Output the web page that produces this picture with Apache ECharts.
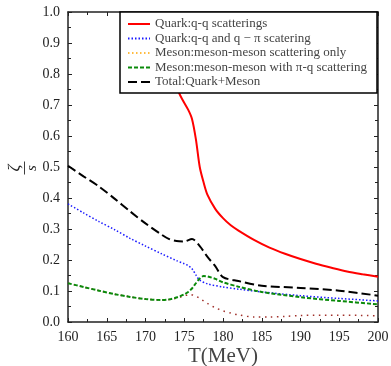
<!DOCTYPE html>
<html>
<head>
<meta charset="utf-8">
<script src="https://cdn.jsdelivr.net/npm/echarts@6/dist/echarts.min.js"></script>
<style>
  html, body { margin: 0; padding: 0; background: #fff; }
  #chart { width: 391px; height: 366px; }
</style>
</head>
<body>
<div id="chart"></div>
<script>
// T in MeV, value is zeta/s
var quarkT = [172.5, 173.5, 174.5, 175.5, 176, 176.5, 177, 177.5, 178, 179, 180, 181, 182, 184, 186, 188, 190, 192, 194, 196, 198, 200];
var quarkZeta = [0.86, 0.79, 0.73, 0.685, 0.655, 0.59, 0.5, 0.45, 0.41, 0.365, 0.335, 0.312, 0.295, 0.265, 0.24, 0.22, 0.203, 0.188, 0.175, 0.163, 0.154, 0.146];

var quarkPiT = [160, 162, 164, 166, 168, 170, 172, 174, 175, 175.5, 176, 176.5, 177, 178, 180, 182, 185, 190, 195, 200];
var quarkPiZeta = [0.381, 0.352, 0.324, 0.298, 0.270, 0.245, 0.221, 0.198, 0.188, 0.182, 0.172, 0.152, 0.135, 0.123, 0.113, 0.106, 0.097, 0.085, 0.076, 0.068];

var mesonT = [160, 162, 164, 166, 168, 170, 172, 173, 174, 175, 175.7, 176.5, 177, 178, 179, 180, 181, 182, 184, 186, 188, 190, 195, 200];
var mesonZeta = [0.125, 0.113, 0.101, 0.090, 0.081, 0.074, 0.071, 0.072, 0.077, 0.084, 0.089, 0.083, 0.076, 0.060, 0.046, 0.036, 0.029, 0.023, 0.016, 0.016, 0.018, 0.021, 0.022, 0.020];

var mesonPiT = [160, 162, 164, 166, 168, 170, 172, 173, 174, 175, 175.5, 176, 176.5, 177, 177.5, 178, 179, 180, 182, 185, 190, 195, 200];
var mesonPiZeta = [0.125, 0.113, 0.101, 0.090, 0.081, 0.074, 0.071, 0.073, 0.079, 0.089, 0.097, 0.108, 0.125, 0.140, 0.148, 0.147, 0.139, 0.128, 0.114, 0.097, 0.080, 0.068, 0.057];

var totalT = [160, 162, 164, 166, 168, 170, 172, 173, 174, 175, 176, 177, 178, 179, 180, 182, 185, 190, 195, 200];
var totalZeta = [0.504, 0.470, 0.437, 0.398, 0.357, 0.318, 0.283, 0.268, 0.261, 0.260, 0.268, 0.245, 0.210, 0.180, 0.145, 0.132, 0.117, 0.110, 0.101, 0.085];

var seriesNames = [
  'Quark:q-q scatterings',
  'Quark:q-q and q \u2212 \u03c0 scatering',
  'Meson:meson-meson scattering only',
  'Meson:meson-meson with \u03c0-q scattering',
  'Total:Quark+Meson'
];

var xTicks = [160, 200, 5];
var yTicks = [0, 1, 0.1];

function pairs(xs, ys) {
  return xs.map(function (x, i) { return [x, ys[i]]; });
}

var serif = '"Liberation Serif", "DejaVu Serif", serif';

var chart = echarts.init(document.getElementById('chart'), null, { renderer: 'canvas' });

function axisBase(pos, showLabel) {
  return {
    position: pos,
    axisLine: { show: true, onZero: false, lineStyle: { color: '#222', width: 1.5 } },
    axisTick: { show: true, inside: true, length: 4, lineStyle: { color: '#222', width: 1 } },
    minorTick: { show: true, splitNumber: 2, length: 3, lineStyle: { color: '#222', width: 1 } },
    splitLine: { show: false },
    axisLabel: { show: showLabel, color: '#222', fontFamily: serif, fontSize: 14, margin: 8 }
  };
}

var xBottom = Object.assign(axisBase('bottom', true), {
  type: 'value', min: xTicks[0], max: xTicks[1], interval: xTicks[2],
  name: 'T(MeV)', nameLocation: 'middle', nameGap: 24, nameMoveOverlap: false,
  nameTextStyle: { fontFamily: serif, fontSize: 21, color: '#444', verticalAlign: 'top' }
});
var xTop = Object.assign(axisBase('top', false), {
  type: 'value', min: xTicks[0], max: xTicks[1], interval: xTicks[2]
});
var yLeft = Object.assign(axisBase('left', true), {
  type: 'value', min: yTicks[0], max: yTicks[1], interval: yTicks[2]
});
yLeft.axisLabel.formatter = function (v) { return v.toFixed(1); };
var yRight = Object.assign(axisBase('right', false), {
  type: 'value', min: yTicks[0], max: yTicks[1], interval: yTicks[2]
});

// no symbol in the legend, only the line
var noMark = { opacity: 0 };

var option = {
  animation: false,
  backgroundColor: '#fff',
  grid: { left: 68, right: 13, top: 12, bottom: 44, outerBoundsMode: 'none', containLabel: false },
  xAxis: [xBottom, xTop],
  yAxis: [yLeft, yRight],
  // zeta/s, set as a fraction turned on its side
  graphic: [{
    type: 'text',
    x: 23,
    y: 168,
    rotation: Math.PI / 2,
    style: {
      text: '{z|\u03b6}\n{b|\u2014}\n{s|s}',
      align: 'center',
      verticalAlign: 'middle',
      rich: {
        z: { fontFamily: serif, fontStyle: 'italic', fontSize: 17, lineHeight: 12, fill: '#222', align: 'center' },
        b: { fontFamily: serif, fontSize: 13, fontWeight: 'bold', lineHeight: 6, fill: '#222', align: 'center' },
        s: { fontFamily: serif, fontStyle: 'italic', fontSize: 15, lineHeight: 11, fill: '#222', align: 'center' }
      }
    }
  }],
  legend: {
    orient: 'vertical',
    left: 120,
    top: 12,
    padding: [5, 10, 4, 7],
    itemWidth: 22,
    itemHeight: 10,
    itemGap: 0.5,
    backgroundColor: '#fff',
    borderColor: '#000',
    borderWidth: 1.5,
    borderRadius: 0,
    itemStyle: noMark,
    textStyle: { fontFamily: serif, fontSize: 13, lineHeight: 14, color: '#444' },
    data: [
      { name: seriesNames[0] },
      { name: seriesNames[1] },
      { name: seriesNames[2], itemStyle: { color: '#ffa500', opacity: 0 }, lineStyle: { color: '#ffa500', type: [1.5, 2.5], width: 1.5 } },
      { name: seriesNames[3] },
      { name: seriesNames[4] }
    ]
  },
  series: [
    {
      name: seriesNames[0], type: 'line', symbol: 'none', smooth: 0.3,
      color: '#ff0000', lineStyle: { color: '#ff0000', width: 2 },
      data: pairs(quarkT, quarkZeta)
    },
    {
      name: seriesNames[1], type: 'line', symbol: 'none', smooth: 0.3,
      color: '#1a1aff', lineStyle: { color: '#1a1aff', width: 1.5, type: [1.5, 2] },
      data: pairs(quarkPiT, quarkPiZeta)
    },
    {
      name: seriesNames[2], type: 'line', symbol: 'none', smooth: 0.3,
      color: '#a0302a', lineStyle: { color: '#a0302a', width: 1.5, type: [1.5, 4.5] },
      data: pairs(mesonT, mesonZeta)
    },
    {
      name: seriesNames[3], type: 'line', symbol: 'none', smooth: 0.3,
      color: '#0a8a0a', lineStyle: { color: '#0a8a0a', width: 2, type: [4, 2] },
      data: pairs(mesonPiT, mesonPiZeta)
    },
    {
      name: seriesNames[4], type: 'line', symbol: 'none', smooth: 0.3,
      color: '#000', lineStyle: { color: '#000', width: 2, type: [9, 4] },
      data: pairs(totalT, totalZeta)
    }
  ]
};

chart.setOption(option);
</script>
</body>
</html>
